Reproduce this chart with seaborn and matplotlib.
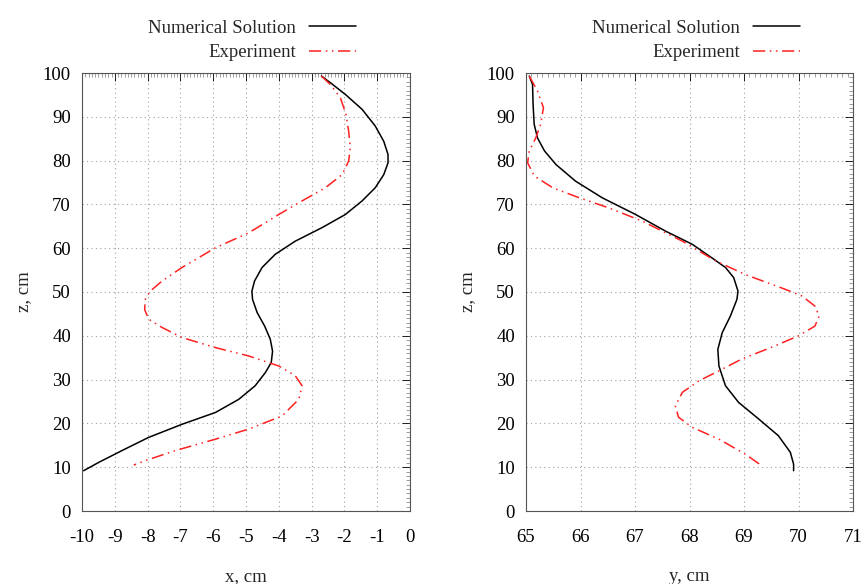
import numpy as np
import pandas as pd
import matplotlib
matplotlib.use("Agg")
import matplotlib.pyplot as plt
import seaborn as sns
from matplotlib.ticker import AutoMinorLocator

# ---- data ----
left_num_x = [-2.70, -2.43, -1.97, -1.46, -1.06, -0.80, -0.67, -0.67, -0.80, -1.06, -1.46, -1.97,
              -2.68, -3.50, -4.11, -4.51, -4.74, -4.82, -4.80, -4.66, -4.43, -4.26, -4.19, -4.23,
              -4.41, -4.72, -5.22, -5.93, -6.95, -7.97, -8.78, -9.49, -9.95]
left_num_z = [99.3, 97.8, 95.1, 91.7, 87.9, 84.4, 81.4, 79.5, 76.8, 73.8, 70.8, 67.7,
              64.7, 61.6, 58.6, 55.6, 52.5, 50.2, 48.3, 45.3, 42.2, 39.2, 36.5, 33.9,
              31.6, 28.6, 25.5, 22.5, 19.8, 16.8, 13.8, 11.1, 9.2]
left_exp_x = [-2.70, -2.43, -2.12, -1.95, -1.87, -1.82, -1.87, -2.07, -2.58, -3.29, -4.00, -4.92,
              -5.93, -6.95, -7.56, -7.92, -8.07, -8.09, -7.97, -7.56, -6.95, -5.93, -4.92, -4.00,
              -3.50, -3.29, -3.39, -3.90, -4.92, -5.93, -7.15, -8.07, -8.42]
left_exp_z = [99.3, 97.4, 94.3, 90.5, 86.7, 82.9, 79.9, 76.8, 73.8, 70.8, 67.7, 63.5,
              60.1, 55.6, 52.5, 50.2, 48.3, 46.0, 43.8, 41.9, 39.6, 37.3, 35.4, 33.1,
              30.9, 28.6, 25.5, 21.7, 18.7, 16.4, 13.8, 11.5, 10.5]
right_num_y = [65.06, 65.12, 65.13, 65.15, 65.21, 65.34, 65.55, 65.91, 66.40, 67.01, 67.56, 68.05,
               68.41, 68.66, 68.81, 68.89, 68.87, 68.75, 68.60, 68.52, 68.54, 68.66, 68.90, 69.27,
               69.63, 69.85, 69.91, 69.91]
right_num_z = [99.3, 97.4, 92.8, 88.3, 85.2, 82.2, 79.1, 75.3, 71.5, 67.7, 63.9, 60.9,
               57.8, 55.6, 53.3, 50.2, 48.3, 44.5, 40.7, 36.9, 33.1, 28.6, 24.8, 21.0,
               17.2, 13.4, 10.7, 9.2]
right_exp_y = [65.06, 65.21, 65.32, 65.27, 65.18, 65.06, 65.03, 65.15, 65.49, 65.98, 66.52, 67.13,
               67.87, 68.48, 69.02, 69.76, 70.06, 70.30, 70.38, 70.30, 70.00, 69.57, 68.96, 68.54,
               68.17, 67.87, 67.74, 67.80, 68.05, 68.54, 69.02, 69.33]
right_exp_z = [99.3, 95.9, 92.1, 88.3, 85.2, 82.2, 79.5, 76.5, 73.8, 71.5, 69.2, 66.2,
               61.6, 57.1, 54.0, 50.6, 49.1, 46.8, 44.5, 42.2, 40.0, 37.7, 34.7, 32.0,
               29.7, 27.1, 24.0, 21.4, 19.1, 16.4, 13.0, 10.3]
series_names = ["Numerical Solution", "Experiment"]
left_xticks = list(range(-10, 1))
right_xticks = list(range(65, 72))
zticks = list(range(0, 101, 10))

sns.set_style("white")
plt.rcParams["font.family"] = ["Liberation Serif", "DejaVu Serif"]
plt.rcParams["axes.unicode_minus"] = False

fig = plt.figure(figsize=(8.65, 5.84), dpi=100)
axL = fig.add_axes([82 / 865, 1 - 511 / 584, 328 / 865, 438 / 584])
axR = fig.add_axes([526 / 865, 1 - 511 / 584, 327 / 865, 438 / 584])

palette = {series_names[0]: "black", series_names[1]: "#ff2020"}
dashes = {series_names[0]: "", series_names[1]: (8, 3, 1, 3, 1, 3)}

def make_df(xn, zn, xe, ze):
    return pd.concat([
        pd.DataFrame({"v": xn, "z": zn, "s": series_names[0]}),
        pd.DataFrame({"v": xe, "z": ze, "s": series_names[1]}),
    ], ignore_index=True)

dfL = make_df(left_num_x, left_num_z, left_exp_x, left_exp_z)
dfR = make_df(right_num_y, right_num_z, right_exp_y, right_exp_z)

fs = 13.5
for ax, df, xt, xlab, legx in [(axL, dfL, left_xticks, "x, cm", 356),
                               (axR, dfR, right_xticks, "y, cm", 800)]:
    sns.lineplot(data=df, x="v", y="z", hue="s", style="s", palette=palette,
                 dashes=dashes, sort=False, estimator=None,
                 legend=False, ax=ax, linewidth=1.1)
    ax.set_xlim(xt[0], xt[-1])
    ax.set_ylim(0, 100)
    ax.set_xticks(xt)
    ax.set_yticks(zticks)
    ax.xaxis.set_minor_locator(AutoMinorLocator(10))
    ax.yaxis.set_minor_locator(AutoMinorLocator(10))
    ax.grid(True, which="major", color="#a0a0a0", linestyle=(0, (1, 3)), linewidth=0.8)
    ax.tick_params(which="both", direction="in", top=True, right=True, labelsize=fs, colors="black")
    ax.tick_params(which="major", length=6, width=0.6)
    ax.tick_params(which="minor", length=3, width=0.5, color="#777777")
    ax.tick_params(axis="x", which="major", pad=13)
    ax.tick_params(axis="y", which="major", pad=8)
    for sp in ax.spines.values():
        sp.set_color("#555555")
        sp.set_linewidth(0.8)
    ax.set_xlabel(xlab, fontsize=fs, labelpad=16)
    ax.set_ylabel("z, cm", fontsize=fs, labelpad=8)
    handles = ax.get_lines()[:2]
    ax.legend(handles, series_names, loc="upper right", markerfirst=False, frameon=False,
              bbox_to_anchor=(legx / 865, 1 - 19.5 / 584), bbox_transform=fig.transFigure,
              fontsize=fs, handlelength=2.5, handletextpad=0.7, labelspacing=0.4,
              borderpad=0, borderaxespad=0)

fig.savefig("out.png", dpi=100)
